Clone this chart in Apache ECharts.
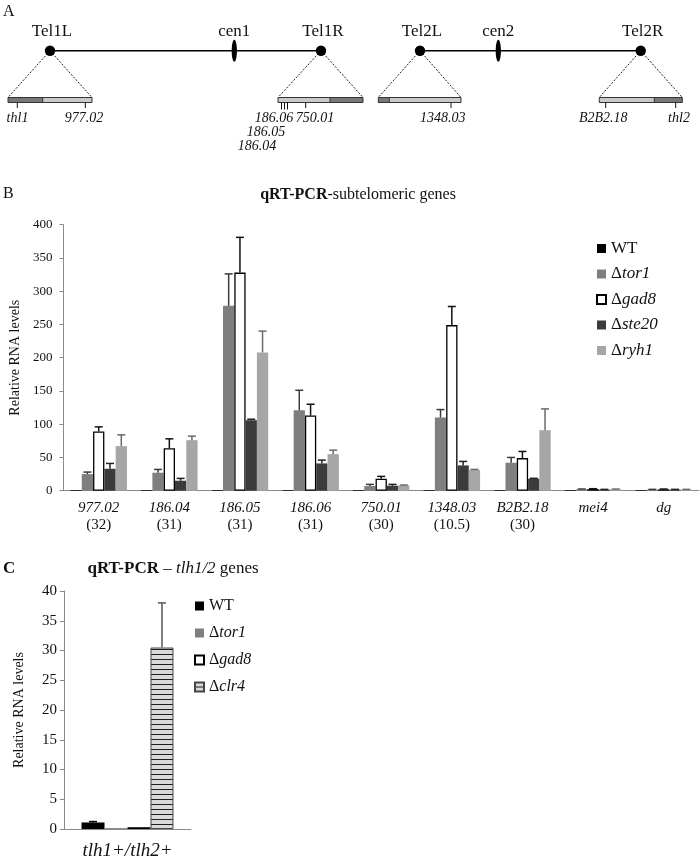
<!DOCTYPE html>
<html><head><meta charset="utf-8">
<script src="https://cdn.jsdelivr.net/npm/echarts@6/dist/echarts.min.js"></script>
<style>html,body{margin:0;padding:0;background:#fff}#c{width:700px;height:860px}</style>
</head><body><div id="c"></div>
<script>
// ---------- Panel A: schematic (diagram units along the figure) ----------
const chromStart = [50, 420];
const chromEnd = [321, 640.7];
const telNames = ['Tel1L', 'Tel1R', 'Tel2L', 'Tel2R'];
const telPos = [50, 321, 420, 640.7];
const cenNames = ['cen1', 'cen2'];
const cenPos = [234.3, 498.3];
const boxStart = [8, 278, 378.3, 599.3];
const boxSplit = [42.7, 330, 389.3, 654.3];
const boxEnd = [92, 363, 461, 682.3];
const boxDarkLeft = [1, 0, 1, 0];
const geneNames = ['thl1', '977.02', '186.06', '186.05', '186.04', '750.01', '1348.03', 'B2B2.18', 'thl2'];
const genePos = [17.3, 85.3, 281.5, 284.5, 287.5, 305.7, 451, 605.7, 675.7];
const geneLabelPos = [17.5, 84, 274, 266, 257, 315, 442.8, 603.3, 679];
const geneLabelRow = [0, 0, 0, 1, 2, 0, 0, 0, 0];

// ---------- Panel B ----------
const geneCats = ['977.02', '186.04', '186.05', '186.06', '750.01', '1348.03', 'B2B2.18', 'mei4', 'dg'];
const geneCt = ['(32)', '(31)', '(31)', '(31)', '(30)', '(10.5)', '(30)', '', ''];
const seriesNamesB = ['WT', 'Δtor1', 'Δgad8', 'Δste20', 'Δryh1'];
const wtB = [1, 1, 1, 1, 1, 1, 1, 1, 1];
const tor1B = [25, 27, 278, 121, 7, 110, 42, 2, 1.5];
const gad8B = [89, 64, 328, 113, 18, 249, 49, 2.5, 2];
const ste20B = [33, 15, 106, 41, 7.5, 38, 18, 1.5, 1.5];
const ryh1B = [67, 76, 208, 55, 8, 31, 91, 2, 1.5];
const wtErrB = [null, null, null, null, null, null, null, null, null];
const tor1ErrB = [28, 32, 326, 151, 9.5, 122, 50, 2.5, 2];
const gad8ErrB = [96, 78, 381, 130, 21.5, 277, 59, 3, 2.5];
const ste20ErrB = [41, 18.5, 107.5, 46, 9.5, 44, 18.6, 2, 2];
const ryh1ErrB = [84, 82, 240, 61, 8.5, 32, 123, 2.5, 2];

// ---------- Panel C ----------
const catC = ['tlh1+/tlh2+'];
const seriesNamesC = ['WT', 'Δtor1', 'Δgad8', 'Δclr4'];
const wtC = [1.1];
const tor1C = [0.15];
const gad8C = [0.3];
const clr4C = [30.5];
const wtErrC = [1.25];
const tor1ErrC = [null];
const gad8ErrC = [null];
const clr4ErrC = [38];

const SERIF = '"Liberation Serif", "Times New Roman", serif';
const chart = echarts.init(document.getElementById('c'));

// stripe pattern for clr4
const pc = document.createElement('canvas');
pc.width = 6; pc.height = 5;
const pctx = pc.getContext('2d');
pctx.fillStyle = '#d9d9d9'; pctx.fillRect(0, 0, 6, 5);
pctx.fillStyle = '#1e1e1e'; pctx.fillRect(0, 4, 6, 1.1);
const stripe = { image: pc, repeat: 'repeat' };

function errRender(idx, n, gap, color) {
  return function (params, api) {
    const top = api.value(2);
    if (top == null || isNaN(top)) return null;
    const cat = api.value(0), v = api.value(1);
    const band = api.size([1, 0])[0];
    const bw = band * (1 - gap) / n;
    const c0 = api.coord([cat, v]);
    const c1 = api.coord([cat, top]);
    const x = c0[0] + (idx - (n - 1) / 2) * bw;
    return { type: 'group', children: [
      { type: 'line', shape: { x1: x, y1: c0[1], x2: x, y2: c1[1] }, style: { stroke: color, lineWidth: 1.5 } },
      { type: 'line', shape: { x1: x - 4, y1: c1[1], x2: x + 4, y2: c1[1] }, style: { stroke: color, lineWidth: 1.5 } }
    ] };
  };
}
function errData(vals, tops) { return vals.map((v, i) => [i, v, tops[i]]); }
function legendFmt(name) {
  return name.charAt(0) === 'Δ' ? '{d|Δ}{i|' + name.slice(1) + '}' : '{d|' + name + '}';
}

const barsB = [wtB, tor1B, gad8B, ste20B, ryh1B];
const errsB = [wtErrB, tor1ErrB, gad8ErrB, ste20ErrB, ryh1ErrB];
const colorsB = ['#000000', '#7f7f7f', '#ffffff', '#3b3b3b', '#a6a6a6'];
const errColorsB = ['#000', '#3a3a3a', '#111', '#222', '#6a6a6a'];
const barsC = [wtC, tor1C, gad8C, clr4C];
const errsC = [wtErrC, tor1ErrC, gad8ErrC, clr4ErrC];
const colorsC = ['#000000', '#808080', '#ffffff', stripe];
const errColorsC = ['#000', '#555', '#111', '#555'];
const GAP_B = 0.2, GAP_C = 0.276;

const series = [];
seriesNamesB.forEach((nm, i) => {
  series.push({
    type: 'bar', name: nm, xAxisIndex: 0, yAxisIndex: 0, data: barsB[i],
    barGap: '0%', barCategoryGap: (GAP_B * 100) + '%', silent: true,
    itemStyle: i === 2 ? { color: '#fff', borderColor: '#000', borderWidth: 1.3 } : { color: colorsB[i] }
  });
});
seriesNamesB.forEach((nm, i) => {
  series.push({
    type: 'custom', name: 'errB' + i, xAxisIndex: 0, yAxisIndex: 0, z: 5, silent: true,
    data: errData(barsB[i], errsB[i]), renderItem: errRender(i, 5, GAP_B, errColorsB[i])
  });
});
seriesNamesC.forEach((nm, i) => {
  let st = { color: colorsC[i] };
  if (i === 2) st = { color: '#fff', borderColor: '#000', borderWidth: 1.2 };
  if (i === 3) st = { color: stripe, borderColor: '#444', borderWidth: 1 };
  series.push({
    type: 'bar', name: nm, xAxisIndex: 1, yAxisIndex: 1, data: barsC[i],
    barGap: '0%', barCategoryGap: (GAP_C * 100) + '%', silent: true, itemStyle: st
  });
});
seriesNamesC.forEach((nm, i) => {
  series.push({
    type: 'custom', name: 'errC' + i, xAxisIndex: 1, yAxisIndex: 1, z: 5, silent: true,
    data: errData(barsC[i], errsC[i]), renderItem: errRender(i, 4, GAP_C, errColorsC[i])
  });
});

// ---------- Panel A series ----------
const Y_CHR = 50.7, Y_BOX0 = 97.5, Y_BOX1 = 102.5, Y_NAME = 32;
const ROW_Y = [118, 132.5, 146.5];
// chromosome lines
series.push({
  type: 'custom', name: 'chrom', xAxisIndex: 2, yAxisIndex: 2, silent: true, z: 2,
  data: chromStart.map((s, i) => [s, chromEnd[i]]),
  renderItem: (p, api) => {
    const a = api.coord([api.value(0), Y_CHR]), b = api.coord([api.value(1), Y_CHR]);
    return { type: 'line', shape: { x1: a[0], y1: a[1], x2: b[0], y2: b[1] }, style: { stroke: '#000', lineWidth: 1.5 } };
  }
});
// subtelomeric boxes + dashed zoom triangles
series.push({
  type: 'custom', name: 'boxes', xAxisIndex: 2, yAxisIndex: 2, silent: true, z: 2,
  data: boxStart.map((s, i) => [s, boxSplit[i], boxEnd[i], telPos[i], boxDarkLeft[i]]),
  renderItem: (p, api) => {
    const s = api.value(0), m = api.value(1), e = api.value(2), t = api.value(3), dl = api.value(4);
    const T = api.coord([t, Y_CHR]);
    const S0 = api.coord([s, Y_BOX0]), M0 = api.coord([m, Y_BOX0]), E0 = api.coord([e, Y_BOX0]);
    const E1 = api.coord([e, Y_BOX1]);
    const h = E1[1] - E0[1];
    const dark = '#777777', light = '#c9c9c9';
    return { type: 'group', children: [
      { type: 'line', shape: { x1: T[0], y1: T[1], x2: S0[0], y2: S0[1] }, style: { stroke: '#222', lineWidth: 1, lineDash: [2, 1.5] } },
      { type: 'line', shape: { x1: T[0], y1: T[1], x2: E0[0], y2: E0[1] }, style: { stroke: '#222', lineWidth: 1, lineDash: [2, 1.5] } },
      { type: 'rect', shape: { x: S0[0], y: S0[1], width: M0[0] - S0[0], height: h }, style: { fill: dl ? dark : light } },
      { type: 'rect', shape: { x: M0[0], y: M0[1], width: E0[0] - M0[0], height: h }, style: { fill: dl ? light : dark } },
      { type: 'line', shape: { x1: M0[0], y1: M0[1], x2: M0[0], y2: M0[1] + h }, style: { stroke: '#333', lineWidth: 1 } },
      { type: 'rect', shape: { x: S0[0], y: S0[1], width: E0[0] - S0[0], height: h }, style: { fill: null, stroke: '#333', lineWidth: 1 } }
    ] };
  }
});
// telomere dots + labels
series.push({
  type: 'custom', name: 'tel', xAxisIndex: 2, yAxisIndex: 2, silent: true, z: 4,
  data: telPos.map((x, i) => [x, i]),
  renderItem: (p, api) => {
    const c = api.coord([api.value(0), Y_CHR]);
    const l = api.coord([api.value(0), Y_NAME]);
    return { type: 'group', children: [
      { type: 'circle', shape: { cx: c[0], cy: c[1], r: 5.2 }, style: { fill: '#000' } },
      { type: 'text', style: { x: l[0] + 2, y: l[1], text: telNames[p.dataIndex], font: '17px ' + SERIF, fill: '#111', align: 'center', verticalAlign: 'middle' } }
    ] };
  }
});
// centromeres
series.push({
  type: 'custom', name: 'cen', xAxisIndex: 2, yAxisIndex: 2, silent: true, z: 4,
  data: cenPos.map((x, i) => [x, i]),
  renderItem: (p, api) => {
    const c = api.coord([api.value(0), Y_CHR]);
    const l = api.coord([api.value(0), Y_NAME]);
    return { type: 'group', children: [
      { type: 'ellipse', shape: { cx: c[0], cy: c[1], rx: 2.6, ry: 11 }, style: { fill: '#000' } },
      { type: 'text', style: { x: l[0], y: l[1], text: cenNames[p.dataIndex], font: '17px ' + SERIF, fill: '#111', align: 'center', verticalAlign: 'middle' } }
    ] };
  }
});
// gene ticks + labels
series.push({
  type: 'custom', name: 'genes', xAxisIndex: 2, yAxisIndex: 2, silent: true, z: 3,
  data: genePos.map((x, i) => [x, geneLabelPos[i], geneLabelRow[i]]),
  renderItem: (p, api) => {
    const x = api.value(0), lx = api.value(1), row = api.value(2);
    const a = api.coord([x, Y_BOX1]), b = api.coord([x, row === 0 && (x < 280 || x > 290) ? 108 : 109.5]);
    const l = api.coord([lx, ROW_Y[row]]);
    return { type: 'group', children: [
      { type: 'line', shape: { x1: a[0], y1: a[1], x2: b[0], y2: b[1] }, style: { stroke: '#111', lineWidth: 1 } },
      { type: 'text', style: { x: l[0], y: l[1], text: geneNames[p.dataIndex], font: 'italic 14px ' + SERIF, fill: '#111', align: 'center', verticalAlign: 'middle' } }
    ] };
  }
});

const axisGrey = '#8a8a8a';
const legendRich = (fs) => ({
  d: { fontFamily: SERIF, fontSize: fs, color: '#111', lineHeight: fs },
  i: { fontFamily: SERIF, fontSize: fs, fontStyle: 'italic', color: '#111', lineHeight: fs }
});

chart.setOption({
  animation: false,
  backgroundColor: '#fff',
  grid: [
    { left: 63, right: 1, top: 224.7, bottom: 369.3 },
    { left: 64, width: 127, top: 591, bottom: 31 },
    { left: 0, width: 700, top: 0, height: 160 }
  ],
  xAxis: [
    { type: 'category', gridIndex: 0, data: geneCats,
      axisLine: { lineStyle: { color: axisGrey } }, axisTick: { length: 6, lineStyle: { color: axisGrey } },
      axisLabel: { interval: 0, margin: 9,
        formatter: (v, i) => geneCt[i] ? '{g|' + v + '}\n{c|' + geneCt[i] + '}' : '{g|' + v + '}',
        rich: { g: { fontFamily: SERIF, fontStyle: 'italic', fontSize: 15, lineHeight: 17, color: '#111' },
                c: { fontFamily: SERIF, fontSize: 15, lineHeight: 17, color: '#111' } } } },
    { type: 'category', gridIndex: 1, data: catC,
      axisLine: { lineStyle: { color: axisGrey } }, axisTick: { length: 5, lineStyle: { color: axisGrey } },
      axisLabel: { margin: 12, fontFamily: SERIF, fontStyle: 'italic', fontSize: 19, color: '#111' } },
    { type: 'value', gridIndex: 2, min: 0, max: 700, show: false }
  ],
  yAxis: [
    { type: 'value', gridIndex: 0, min: 0, max: 400, interval: 50, splitLine: { show: false },
      axisLine: { show: true, lineStyle: { color: axisGrey } }, axisTick: { show: true, length: 4, lineStyle: { color: axisGrey } },
      axisLabel: { fontFamily: SERIF, fontSize: 13, color: '#111', margin: 11 },
      name: 'Relative RNA levels', nameLocation: 'middle', nameGap: 38,
      nameTextStyle: { fontFamily: SERIF, fontSize: 14, color: '#111' } },
    { type: 'value', gridIndex: 1, min: 0, max: 40, interval: 5, splitLine: { show: false },
      axisLine: { show: true, lineStyle: { color: axisGrey } }, axisTick: { show: true, length: 4, lineStyle: { color: axisGrey } },
      axisLabel: { fontFamily: SERIF, fontSize: 15, color: '#111', margin: 7 },
      name: 'Relative RNA levels', nameLocation: 'middle', nameGap: 38,
      nameTextStyle: { fontFamily: SERIF, fontSize: 14, color: '#111' } },
    { type: 'value', gridIndex: 2, min: 0, max: 160, inverse: true, show: false }
  ],
  legend: [
    { data: seriesNamesB, orient: 'vertical', left: 591, top: 235, icon: 'rect', itemWidth: 9, itemHeight: 9,
      itemGap: 8.5, selectedMode: false, formatter: legendFmt, textStyle: { rich: legendRich(17) } },
    { data: seriesNamesC, orient: 'vertical', left: 189, top: 593, icon: 'rect', itemWidth: 9, itemHeight: 9,
      itemGap: 11, selectedMode: false, formatter: legendFmt, textStyle: { rich: legendRich(16) } }
  ],
  graphic: [
    { type: 'text', left: 3, top: 4, style: { text: 'A', font: '16px ' + SERIF, fill: '#111' } },
    { type: 'text', left: 3, top: 186, style: { text: 'B', font: '16px ' + SERIF, fill: '#111' } },
    { type: 'text', left: 3, top: 560, style: { text: 'C', font: 'bold 17px ' + SERIF, fill: '#111' } },
    { type: 'text', x: 358, y: 195, style: {
        text: '{b|qRT-PCR}{n|-subtelomeric genes}', align: 'center', verticalAlign: 'middle',
        rich: { b: { font: 'bold 16px ' + SERIF, fill: '#111' }, n: { font: '16px ' + SERIF, fill: '#111' } } } },
    { type: 'text', x: 173, y: 569, style: {
        text: '{b|qRT-PCR}{n| – }{i|tlh1/2}{n| genes}', align: 'center', verticalAlign: 'middle',
        rich: { b: { font: 'bold 17px ' + SERIF, fill: '#111' }, n: { font: '17px ' + SERIF, fill: '#111' },
                i: { font: 'italic 17px ' + SERIF, fill: '#111' } } } }
  ],
  series: series
});
</script></body></html>
